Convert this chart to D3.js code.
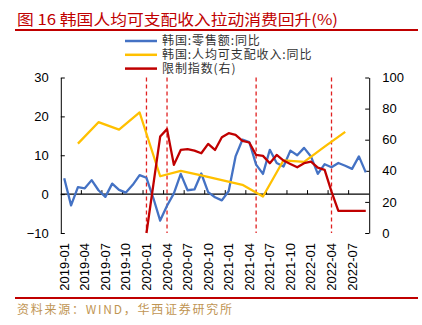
<!DOCTYPE html>
<html lang="zh">
<head>
<meta charset="UTF-8">
<title>韩国人均可支配收入拉动消费回升</title>
<script src="https://d3js.org/d3.v7.min.js"></script>
<style>
  body { margin: 0; background: #fff; }
  svg text { font-family: "Liberation Sans", Arial, sans-serif; }
  .cjk { font-family: "Noto Sans CJK SC", sans-serif; }
</style>
</head>
<body>
<svg width="422" height="325"></svg>
<script>
// 月份 2019-01 ~ 2022-09
const months = [
  '2019-01','2019-02','2019-03','2019-04','2019-05','2019-06','2019-07','2019-08','2019-09','2019-10','2019-11','2019-12',
  '2020-01','2020-02','2020-03','2020-04','2020-05','2020-06','2020-07','2020-08','2020-09','2020-10','2020-11','2020-12',
  '2021-01','2021-02','2021-03','2021-04','2021-05','2021-06','2021-07','2021-08','2021-09','2021-10','2021-11','2021-12',
  '2022-01','2022-02','2022-03','2022-04','2022-05','2022-06','2022-07','2022-08','2022-09'
];
const tickLabels = ['2019-01','2019-04','2019-07','2019-10','2020-01','2020-04','2020-07','2020-10',
  '2021-01','2021-04','2021-07','2021-10','2022-01','2022-04','2022-07'];

// 韩国:零售额:同比 (左轴)
const retail = [4.1, -2.9, 1.8, 1.5, 3.6, 1.0, -0.7, 2.7, 1.1, 0.4, 2.4, 4.9,
  4.2, -1.0, -6.8, -3.0, 0.2, 5.2, 1.0, 1.2, 5.3, 0.5, -0.8, -1.6,
  0.8, 9.7, 14.0, 13.4, 7.6, 5.2, 11.4, 8.0, 7.1, 11.2, 10.0, 11.9,
  9.7, 5.2, 7.7, 6.9, 8.0, 7.3, 6.5, 9.7, 5.6];

// 韩国:人均可支配收入:同比 (左轴, 季度)
const incomeMonths = ['2019-03','2019-06','2019-09','2019-12','2020-03','2020-06','2020-09','2020-12',
  '2021-03','2021-06','2021-09','2021-12','2022-03','2022-06'];
const income = [13.0, 18.5, 16.6, 21.0, 4.6, 6.0, 4.8, 3.6, 2.4, -0.6, 8.7, 8.3, 12.2, 16.0];

// 限制指数 (右轴)
const stringencyMonths = months.slice(12);
const stringency = [0, 31, 62, 66.8, 43.8, 53.4, 53.9, 53.0, 51.3, 57.3, 53.4, 61.6,
  64.2, 63.1, 59.2, 58.2, 50.2, 49.6, 44.9, 50.2, 46.6, 44.4, 42.3, 44.9,
  45.9, 42.0, 40.6, 26.6, 14.2, 14.2, 14.2, 14.2, 14.2];

// 竖向虚线
const markMonths = ['2020-01', '2020-04', '2021-05', '2022-04'];

const seriesNames = ['韩国:零售额:同比', '韩国:人均可支配收入:同比', '限制指数(右)'];
const colors = ['#4472c4', '#ffc000', '#c00000'];

const svg = d3.select('svg');
const plotLeft = 60.8, plotRight = 369.2, plotTop = 77.5, plotBottom = 233;

const x = d3.scaleBand().domain(months).range([plotLeft, plotRight]).padding(0);
const cx = m => x(m) + x.bandwidth() / 2;
const yL = d3.scaleLinear().domain([-10, 30]).range([plotBottom, plotTop]);
const yR = d3.scaleLinear().domain([0, 100]).range([plotBottom, plotTop]);

// 标题
svg.append('text').attr('class', 'cjk')
  .attr('x', 17).attr('y', 24.5)
  .attr('font-size', 15).attr('fill', '#c00000')
  .attr('textLength', 321).attr('lengthAdjust', 'spacingAndGlyphs')
  .text('图 16 韩国人均可支配收入拉动消费回升(%)');
svg.append('line').attr('x1', 15).attr('x2', 418).attr('y1', 30).attr('y2', 30)
  .attr('stroke', '#c00000').attr('stroke-width', 2);

// 图例
const lg = svg.append('g').selectAll('g').data(seriesNames).enter().append('g')
  .attr('transform', (d, i) => `translate(125,${41 + i * 13.8})`);
lg.append('line').attr('x1', 0).attr('x2', 32)
  .attr('stroke', (d, i) => colors[i]).attr('stroke-width', 2.5);
lg.append('text').attr('class', 'cjk').attr('x', 37).attr('y', 4.2)
  .attr('font-size', 12).attr('letter-spacing', 0.9).attr('fill', '#333').text(d => d);

// 竖向虚线
svg.append('g').selectAll('line').data(markMonths).enter().append('line')
  .attr('x1', d => cx(d)).attr('x2', d => cx(d))
  .attr('y1', plotTop).attr('y2', plotBottom)
  .attr('stroke', '#e02020').attr('stroke-width', 1.3)
  .attr('stroke-dasharray', '4,3');

// 左轴
const axL = svg.append('g').attr('transform', `translate(${plotLeft},0)`)
  .call(d3.axisLeft(yL).tickValues([-10, 0, 10, 20, 30]).tickSizeInner(-4).tickSizeOuter(0).tickPadding(12));
// 右轴
const axR = svg.append('g').attr('transform', `translate(${plotRight},0)`)
  .call(d3.axisRight(yR).tickValues([0, 20, 40, 60, 80, 100]).tickSizeInner(-4).tickSizeOuter(0).tickPadding(13));
[axL, axR].forEach(a => {
  a.selectAll('text').attr('font-size', 13).attr('fill', '#000');
  a.selectAll('path,line').attr('stroke', '#000');
});

// 零线与刻度
svg.append('line').attr('x1', plotLeft).attr('x2', plotRight).attr('y1', yL(0)).attr('y2', yL(0))
  .attr('stroke', '#000').attr('stroke-width', 1.3);
svg.append('g').selectAll('line').data(tickLabels.slice(1)).enter().append('line')
  .attr('x1', d => x(d)).attr('x2', d => x(d))
  .attr('y1', yL(0)).attr('y2', yL(0) - 4)
  .attr('stroke', '#000');

// x 轴标签
svg.append('g').selectAll('text').data(tickLabels).enter().append('text')
  .attr('transform', d => `translate(${cx(d) + 4.5},243) rotate(-90)`)
  .attr('text-anchor', 'end').attr('font-size', 13).attr('fill', '#000')
  .text(d => d);

// 折线
const lineL = d3.line().x(d => cx(d[0])).y(d => yL(d[1]));
const lineR = d3.line().x(d => cx(d[0])).y(d => yR(d[1]));

svg.append('path').datum(months.map((m, i) => [m, retail[i]]))
  .attr('d', lineL).attr('fill', 'none').attr('stroke', colors[0]).attr('stroke-width', 2.3)
  .attr('stroke-linejoin', 'round');
svg.append('path').datum(incomeMonths.map((m, i) => [m, income[i]]))
  .attr('d', lineL).attr('fill', 'none').attr('stroke', colors[1]).attr('stroke-width', 2.3)
  .attr('stroke-linejoin', 'round');
svg.append('path').datum(stringencyMonths.map((m, i) => [m, stringency[i]]))
  .attr('d', lineR).attr('fill', 'none').attr('stroke', colors[2]).attr('stroke-width', 2.3)
  .attr('stroke-linejoin', 'round');

// 底部
svg.append('line').attr('x1', 15).attr('x2', 418).attr('y1', 298).attr('y2', 298)
  .attr('stroke', '#c00000').attr('stroke-width', 2);
svg.append('text').attr('class', 'cjk').attr('x', 17).attr('y', 314)
  .attr('font-size', 12).attr('fill', '#bf9553')
  .attr('textLength', 215).attr('lengthAdjust', 'spacing')
  .text('资料来源：WIND，华西证券研究所');
</script>
</body>
</html>
